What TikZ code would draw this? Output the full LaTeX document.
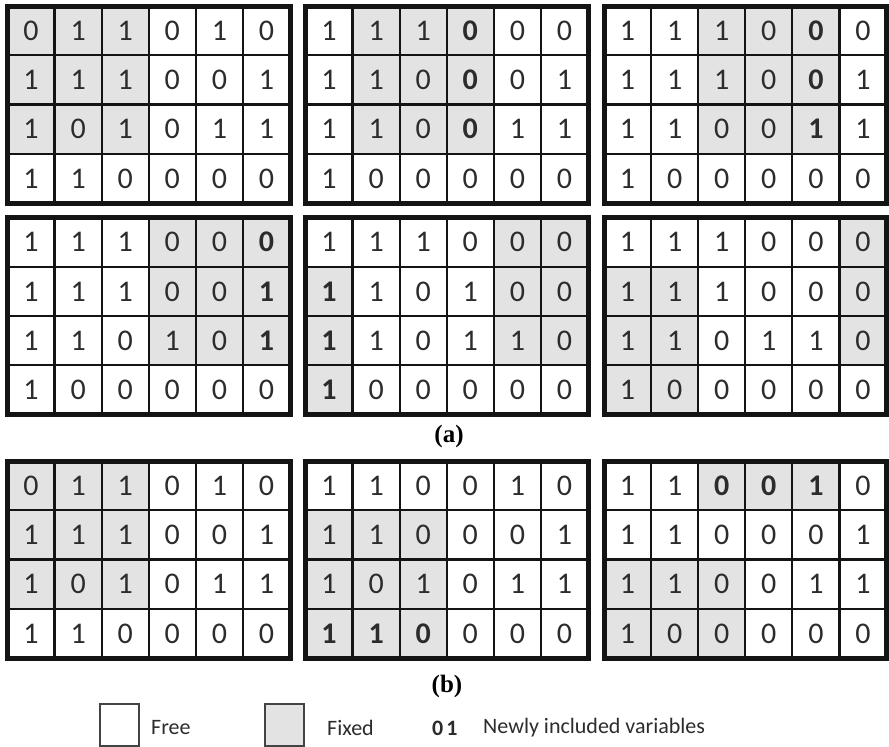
\documentclass[tikz,border=0pt]{standalone}
\usepackage{fontspec}
\setmainfont{Carlito}
\newfontfamily\capfont{Liberation Serif}
\definecolor{fixgray}{HTML}{E3E3E3}
\definecolor{ink}{HTML}{141414}
\def\cw{47.083}
\def\ch{49.25}
\def\gw{282.5}
\def\gh{197}
\tikzset{
  gridline/.style={line width=2.2pt, draw=ink},
  frameline/.style={line width=5pt, draw=ink},
  digit/.style={font=\fontsize{30}{30}\selectfont, inner sep=0pt, text=ink!90},
  legbox/.style={draw=ink!80, line width=1.3pt, minimum width=39pt, minimum height=42pt, inner sep=0pt},
  legtext/.style={font=\fontsize{22}{22}\selectfont, anchor=west, inner sep=0pt, text=ink!90},
  caption/.style={font=\capfont\bfseries\fontsize{25}{25}\selectfont, inner sep=0pt},
}
% #1 name, #2 x0, #3 y0, #4 fixed cells r/c, #5 rows of digits (2 = bold 0, 3 = bold 1)
\newcommand\puzzle[5]{%
  \begin{scope}[shift={(#2,#3)}]
    \foreach \r/\c in {#4} \fill[fixgray] ({(\c-1)*\cw},{(\r-1)*\ch}) rectangle ++(\cw,\ch);
    \foreach \i in {1,...,5} \draw[gridline] ({\i*\cw},0) -- ++(0,\gh);
    \foreach \i in {1,2,3} \draw[gridline] (0,{\i*\ch}) -- ++(\gw,0);
    \foreach \row [count=\r] in {#5} {
      \foreach \v [count=\c] in \row {
        \node[digit] (#1-\r-\c) at ({(\c-0.5)*\cw},{(\r-0.5)*\ch})
          {\ifnum\v>1 \bfseries\the\numexpr\v-2\relax\else\v\fi};
      }
    }
    \draw[frameline] (0,0) rectangle (\gw,\gh);
  \end{scope}}
\begin{document}
\begin{tikzpicture}[x=1pt,y=-1pt]
  \useasboundingbox (0,0) rectangle (889,747);
  \fill[white] (0,0) rectangle (889,747);
  % (a) first row
  \puzzle{aA}{7.5}{6}{1/1,1/2,1/3,2/1,2/2,2/3,3/1,3/2,3/3}
    {{0,1,1,0,1,0},{1,1,1,0,0,1},{1,0,1,0,1,1},{1,1,0,0,0,0}}
  \puzzle{aB}{305.5}{6}{1/2,1/3,1/4,2/2,2/3,2/4,3/2,3/3,3/4}
    {{1,1,1,2,0,0},{1,1,0,2,0,1},{1,1,0,2,1,1},{1,0,0,0,0,0}}
  \puzzle{aC}{604}{6}{1/3,1/4,1/5,2/3,2/4,2/5,3/3,3/4,3/5}
    {{1,1,1,0,2,0},{1,1,1,0,2,1},{1,1,0,0,3,1},{1,0,0,0,0,0}}
  % (a) second row
  \puzzle{aD}{7.5}{217.5}{1/4,1/5,1/6,2/4,2/5,2/6,3/4,3/5,3/6}
    {{1,1,1,0,0,2},{1,1,1,0,0,3},{1,1,0,1,0,3},{1,0,0,0,0,0}}
  \puzzle{aE}{305.5}{217.5}{1/5,1/6,2/5,2/6,3/5,3/6,2/1,3/1,4/1}
    {{1,1,1,0,0,0},{3,1,0,1,0,0},{3,1,0,1,1,0},{3,0,0,0,0,0}}
  \puzzle{aF}{604}{217.5}{1/6,2/6,3/6,2/1,2/2,3/1,3/2,4/1,4/2}
    {{1,1,1,0,0,0},{1,1,1,0,0,0},{1,1,0,1,1,0},{1,0,0,0,0,0}}
  \node[caption] (capa) at (449,436) {(a)};
  % (b)
  \puzzle{bA}{7.5}{461}{1/1,1/2,1/3,2/1,2/2,2/3,3/1,3/2,3/3}
    {{0,1,1,0,1,0},{1,1,1,0,0,1},{1,0,1,0,1,1},{1,1,0,0,0,0}}
  \puzzle{bB}{305.5}{461}{2/1,2/2,2/3,3/1,3/2,3/3,4/1,4/2,4/3}
    {{1,1,0,0,1,0},{1,1,0,0,0,1},{1,0,1,0,1,1},{3,3,2,0,0,0}}
  \puzzle{bC}{604}{461}{1/3,1/4,1/5,3/1,3/2,3/3,4/1,4/2,4/3}
    {{1,1,2,2,3,0},{1,1,0,0,0,1},{1,1,0,0,1,1},{1,0,0,0,0,0}}
  \node[caption] (capb) at (447,686) {(b)};
  % legend
  \node[legbox, fill=white] (freebox) at (119.5,725) {};
  \node[legtext] (freetext) at (151,728) {Free};
  \node[legbox, fill=fixgray] (fixbox) at (284.5,725) {};
  \node[legtext] (fixtext) at (327,728) {Fixed};
  \node[legtext] (newmark) at (432,728) {\bfseries 0\kern3pt 1};
  \node[legtext] (newtext) at (483,728) {Newly included variables};
\end{tikzpicture}
\end{document}
